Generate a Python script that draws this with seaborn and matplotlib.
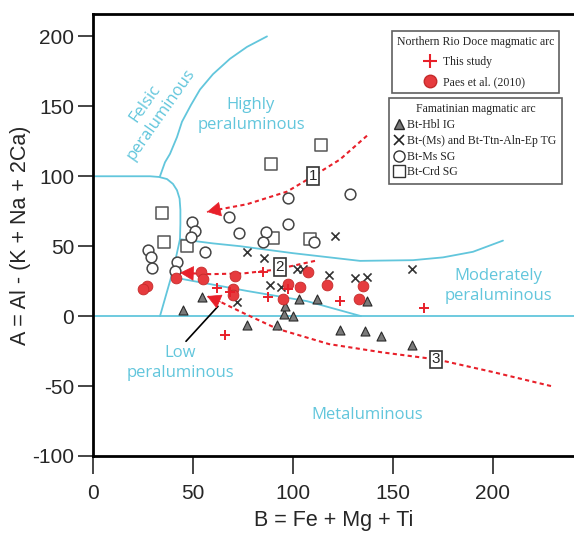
"""
    A - B diagram (peraluminous / metaluminous fields) with biotite data.
"""

import matplotlib
matplotlib.use("Agg")
import matplotlib.pyplot as plt
from matplotlib.lines import Line2D
import seaborn as sns

# ---------------- data (B = Fe + Mg + Ti, A = Al - (K + Na + 2Ca))
# Northern Rio Doce magmatic arc
this_study_b = [85, 62, 68.5, 87.5, 97.5, 66, 123.5, 165.5]
this_study_a = [31.4, 20, 17, 13.6, 19.3, -13.6, 10.7, 6]

paes_b = [27, 25, 41.5, 54, 55, 71, 70, 70, 107.5, 97.5, 103.5, 117, 135, 133, 95]
paes_a = [21.4, 19.3, 27.1, 31.4, 26.4, 28.6, 19.3, 15, 31.4, 22.9, 20.7, 22.1, 21.4, 12.1, 12.1]

# Famatinian magmatic arc
hbl_b = [45, 54.5, 77, 92, 95.5, 100, 96, 103, 112, 137, 123.5, 136, 144, 159.5]
hbl_a = [4.3, 13.6, -6.4, -6.4, 1.4, 0, 7.1, 12.1, 12.1, 10.7, -10, -10.7, -14.3, -20.7]

ttn_b = [77, 85.5, 121, 102, 105, 118, 88.5, 94, 72, 131, 137, 159.5]
ttn_a = [45.7, 41.4, 57, 33.6, 33.6, 29.3, 22.1, 20.7, 10, 27.1, 27.9, 33.6]

ms_b = [68, 97.5, 49.5, 51, 49, 73, 86.5, 85, 97.5, 110.5, 56, 27.5, 29, 29.5, 42, 41, 128.5]
ms_a = [70.7, 84.3, 67.1, 60.7, 56.4, 59.3, 60, 52.9, 65.7, 52.9, 45.7, 47.1, 42.1, 34.3, 38.6, 32.1, 87.1]

crd_b = [89, 114, 34.5, 35.5, 47, 90, 108.5]
crd_a = [109, 122, 73.5, 53, 50, 56, 55]

# ---------------- field boundaries
felsic_b = [33.5, 36, 38.5, 42, 44.5, 49, 53.5, 60, 68.5, 77, 87]
felsic_a = [100, 110, 116, 128, 139, 151, 162, 173, 184, 192.5, 200]

corner_b = [0, 28.5, 33, 37, 40, 42, 43.3, 43.7, 43.7, 43.5, 41.5, 39.5, 36.5, 33.5]
corner_a = [100, 100, 99.5, 98, 94.5, 90, 84, 76, 66, 55, 42, 30, 15, 0]

upper_b = [43.5, 60, 73.5, 100, 133.5, 160, 175, 190, 205]
upper_a = [55, 52, 50, 45, 39.5, 40, 42, 46, 54]

lower_b = [39, 60, 77, 107, 134]
lower_a = [28, 22.5, 18, 10.7, 0]

# ---------------- red trend arrows
trend1_b = [137, 123.5, 110, 97, 77, 62, 57]
trend1_a = [129, 112, 100, 89, 80, 76, 74.5]
trend2_b = [111, 100, 90, 75, 58.5, 43.5]
trend2_a = [39.5, 36, 33, 30.5, 30, 31]
trend3_b = [229, 200, 172, 145, 118, 92, 74, 64, 57]
trend3_a = [-50, -40, -31, -26, -20, -9, 3, 10, 14.3]

trend_labels = ['1', '2', '3']
trend_label_b = [110, 93.5, 171.5]
trend_label_a = [100, 35, -31]

field_names = ['Felsic\nperaluminous', 'Highly\nperaluminous', 'Moderately\nperaluminous',
               'Low\nperaluminous', 'Metaluminous']
field_b = [30, 79, 202.5, 43.5, 137]
field_a = [148, 144, 21.4, -33.6, -71]
field_rot = [55, 0, 0, 0, 0]

cyan = '#62c6dc'
red = '#e8202a'

sns.set_style("white")
plt.rcParams['font.family'] = ['Liberation Sans', 'DejaVu Sans']
plt.rcParams['axes.unicode_minus'] = False

fig = plt.figure(figsize=(5.74, 5.33), dpi=100)
ax = fig.add_axes([0.162, 0.1445, 0.838, 0.8292])

# Field boundaries
for bx, ay in [(felsic_b, felsic_a), (corner_b, corner_a), (upper_b, upper_a), (lower_b, lower_a)]:
    ax.plot(bx, ay, color=cyan, lw=1.3, zorder=1)
ax.axhline(0, color=cyan, lw=1.3, zorder=1)

for name, bx, ay, rot in zip(field_names, field_b, field_a, field_rot):
    ax.text(bx, ay, name, color=cyan, fontsize=12, family='Open Sans', ha='center', va='center',
            rotation=rot, rotation_mode='anchor', multialignment='center', linespacing=1.3)

# Pointer for the low peraluminous field
ax.plot([46.5, 62.5], [-18, 7], color='black', lw=1.2, zorder=2)

# Trend arrows
for bx, ay in [(trend1_b, trend1_a), (trend2_b, trend2_a), (trend3_b, trend3_a)]:
    ax.plot(bx, ay, color=red, lw=1.5, ls=(0, (2, 1.6)), zorder=2)
    ax.annotate('', xy=(bx[-1], ay[-1]), xytext=(bx[-2], ay[-2]),
                arrowprops=dict(arrowstyle='-|>,head_length=0.65,head_width=0.35',
                                color=red, lw=0.5, mutation_scale=14, shrinkA=0, shrinkB=0),
                zorder=4)
for lab, bx, ay in zip(trend_labels, trend_label_b, trend_label_a):
    ax.text(bx, ay, lab, fontsize=11, ha='center', va='center', zorder=6,
            bbox=dict(boxstyle='square,pad=0.12', fc='white', ec='#333333', lw=1.2))

# Scatter groups
sns.scatterplot(x=crd_b, y=crd_a, marker='s', s=70, facecolor='white', edgecolor='#555555',
                linewidth=1.1, ax=ax, zorder=3)
sns.scatterplot(x=ms_b, y=ms_a, marker='o', s=60, facecolor='white', edgecolor='#444444',
                linewidth=1.1, ax=ax, zorder=3)
sns.scatterplot(x=ttn_b, y=ttn_a, marker='x', s=34, color='#333333', linewidth=1.2, ax=ax, zorder=3)
sns.scatterplot(x=hbl_b, y=hbl_a, marker='^', s=42, facecolor='#7a7a7a', edgecolor='#2a2a2a',
                linewidth=0.8, ax=ax, zorder=3)
sns.scatterplot(x=paes_b, y=paes_a, marker='o', s=60, facecolor='#e63b3e', edgecolor='#c42a2a',
                linewidth=0.6, ax=ax, zorder=5)
sns.scatterplot(x=this_study_b, y=this_study_a, marker='+', s=60, color=red, linewidth=1.4,
                ax=ax, zorder=5)

# Axes
ax.set_xlim(0, 240.5)
ax.set_ylim(-100, 216)
ax.set_xticks([0, 50, 100, 150, 200])
ax.set_yticks([-100, -50, 0, 50, 100, 150, 200])
ax.set_xlabel('B = Fe + Mg + Ti', fontsize=15.5, labelpad=5)
ax.set_ylabel('A = Al - (K + Na + 2Ca)', fontsize=15.5, labelpad=1)
ax.tick_params(axis='x', length=13, width=1.2, pad=7.5, labelsize=15, direction='out', bottom=True)
ax.tick_params(axis='y', length=10.5, width=1.2, pad=3, labelsize=15, direction='out', left=True)
for side in ['left', 'top', 'bottom']:
    ax.spines[side].set_linewidth(2)
    ax.spines[side].set_color('black')
ax.spines['right'].set_visible(False)

# Legends
serif = {'family': 'Liberation Serif', 'size': 8.5}
h_rio = [Line2D([], [], marker='+', ls='', color=red, markersize=10, markeredgewidth=1.5,
                label='This study'),
         Line2D([], [], marker='o', ls='', markerfacecolor='#e63b3e', markeredgecolor='#c42a2a',
                markersize=9, label='Paes et al. (2010)')]
leg1 = ax.legend(handles=h_rio, title='Northern Rio Doce magmatic arc', loc='upper left',
                 bbox_to_anchor=(0.683, 0.942), bbox_transform=fig.transFigure, prop=serif,
                 title_fontproperties=serif, alignment='center', fancybox=False, framealpha=1,
                 edgecolor='#606060', handlelength=0.8, handletextpad=0.7, labelspacing=0.7,
                 borderpad=0.4, borderaxespad=0)
leg1.get_frame().set_linewidth(1.2)
ax.add_artist(leg1)

h_fam = [Line2D([], [], marker='^', ls='', markerfacecolor='#7a7a7a', markeredgecolor='#2a2a2a',
                markersize=7, label='Bt-Hbl IG'),
         Line2D([], [], marker='x', ls='', color='#222222', markersize=7, markeredgewidth=1.2,
                label='Bt-(Ms) and Bt-Ttn-Aln-Ep TG'),
         Line2D([], [], marker='o', ls='', markerfacecolor='white', markeredgecolor='#333333',
                markersize=8, label='Bt-Ms SG'),
         Line2D([], [], marker='s', ls='', markerfacecolor='white', markeredgecolor='#333333',
                markersize=8, label='Bt-Crd SG')]
leg2 = ax.legend(handles=h_fam, title='Famatinian magmatic arc', loc='upper left',
                 bbox_to_anchor=(0.678, 0.816), bbox_transform=fig.transFigure, prop=serif,
                 title_fontproperties=serif, alignment='center', fancybox=False, framealpha=1,
                 edgecolor='#606060', handlelength=0.8, handletextpad=0.3, labelspacing=0.32,
                 borderpad=0.45, borderaxespad=0)
leg2.get_frame().set_linewidth(1.2)

fig.savefig('out.png', dpi=100)
